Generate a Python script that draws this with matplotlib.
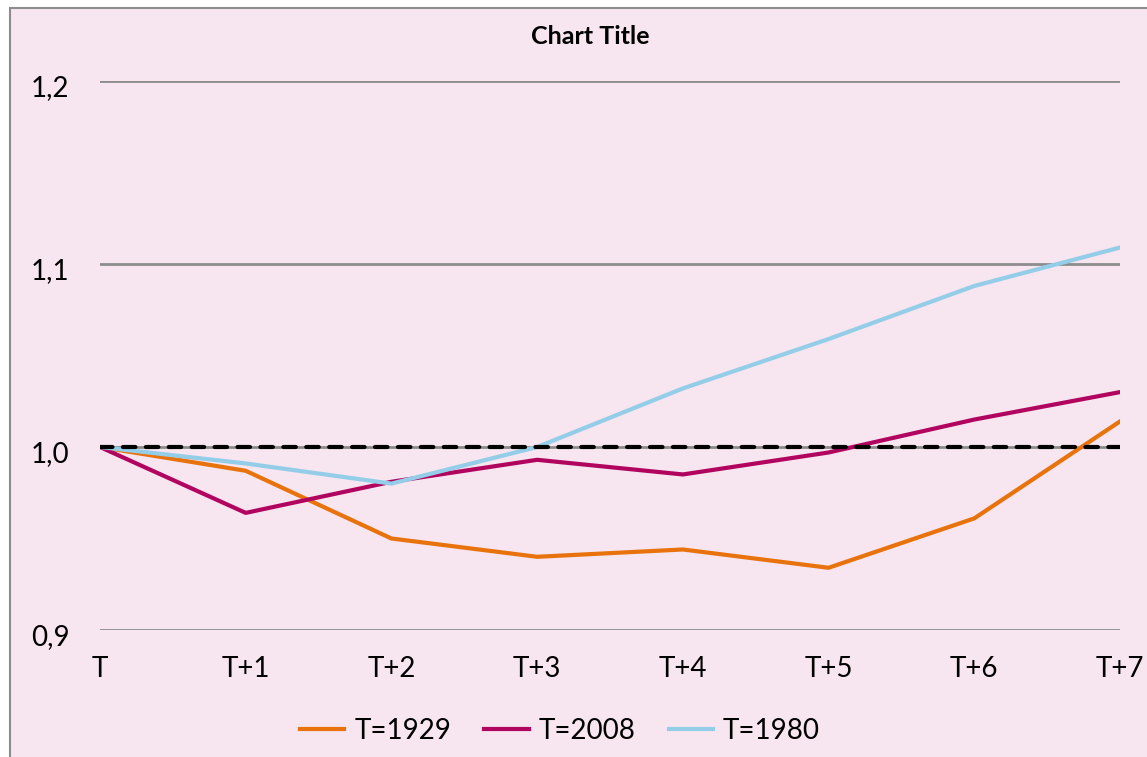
import matplotlib
matplotlib.use('Agg')
import matplotlib.pyplot as plt
from matplotlib.patches import Rectangle
from matplotlib.ticker import FuncFormatter
from matplotlib.transforms import ScaledTranslation

plt.rcParams['font.family'] = ['Lato', 'DejaVu Sans']

periods = ['T', 'T+1', 'T+2', 'T+3', 'T+4', 'T+5', 'T+6', 'T+7']
s1929 = [1.0, 0.987, 0.950, 0.940, 0.944, 0.934, 0.961, 1.014]
s2008 = [1.0, 0.964, 0.981, 0.993, 0.985, 0.997, 1.015, 1.030]
s1980 = [1.0, 0.991, 0.980, 1.000, 1.032, 1.059, 1.088, 1.109]
baseline = [1.0] * len(periods)
yticks = [0.9, 1.0, 1.1, 1.2]

bg = '#F7E5EF'
W, H = 1147, 757
fig = plt.figure(figsize=(W / 100, H / 100), dpi=100, facecolor='white')

# chart area frame (cut off at right and bottom like the source)
fig.patches.append(Rectangle((10 / W, -0.1), 1.5, 1 - 8 / H + 0.1,
                             transform=fig.transFigure, facecolor=bg,
                             edgecolor='#8C8C8C', linewidth=1.5, zorder=-10))

ax = fig.add_axes([100 / W, 1 - 630 / H, 1020 / W, 549 / H])
ax.set_facecolor('none')
ax.set_zorder(1)

x = list(range(len(periods)))
ax.plot(x, s1929, color='#E8730C', lw=3, label='T=1929', zorder=3)
ax.plot(x, s2008, color='#B0045F', lw=3, label='T=2008', zorder=3)
ax.plot(x, s1980, color='#93CDE8', lw=3, label='T=1980', zorder=3)
ax.plot(x, baseline, color='black', lw=3, ls=(0, (3, 2.5)),
        dash_capstyle='round', zorder=4)

ax.set_xlim(0, len(periods) - 1)
ax.set_ylim(0.9, 1.2)
ax.set_xticks(x)
ax.set_xticklabels(periods)
ax.set_yticks(yticks)
ax.yaxis.set_major_formatter(FuncFormatter(lambda v, p: f'{v:.1f}'.replace('.', ',')))
ax.grid(axis='y', color='#8C8C8C', lw=2)
ax.set_axisbelow(True)
for s in ax.spines.values():
    s.set_visible(False)
ax.tick_params(axis='both', length=0, labelsize=20, colors='black')
ax.tick_params(axis='y', pad=22)
ax.tick_params(axis='x', pad=19)
# y labels sit a little below their gridline in the source
shift = ScaledTranslation(0, -5 / 100, fig.dpi_scale_trans)
for lab in ax.get_yticklabels():
    lab.set_transform(lab.get_transform() + shift)

fig.text(590 / W, 1 - 37 / H, 'Chart Title', ha='center', va='center',
         fontsize=18, fontweight='bold')

fig.legend(loc='center', bbox_to_anchor=(560 / W, 1 - 731 / H), ncol=3,
           frameon=False, fontsize=20, handlelength=1.6, handletextpad=0.35,
           columnspacing=1.2)

fig.savefig('out.png', dpi=100, facecolor='white')
